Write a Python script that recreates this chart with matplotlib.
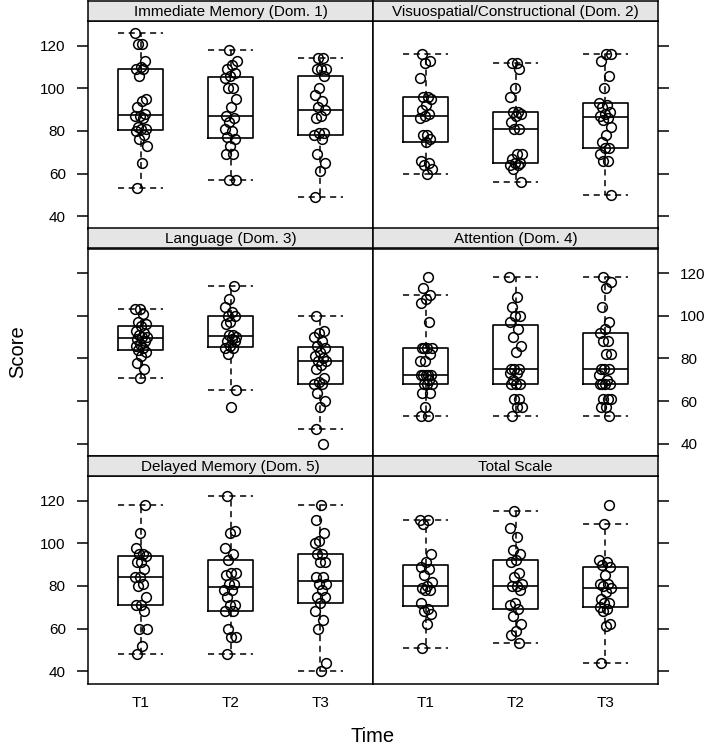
import numpy as np
import matplotlib
matplotlib.use("Agg")
import matplotlib.pyplot as plt

plt.rcParams["font.family"] = ["Liberation Sans", "DejaVu Sans"]

time_labels = ["T1", "T2", "T3"]
panel_titles = ["Immediate Memory (Dom. 1)", "Visuospatial/Constructional (Dom. 2)",
                "Language (Dom. 3)", "Attention (Dom. 4)",
                "Delayed Memory (Dom. 5)", "Total Scale"]

# scores, one list per domain and time point
imm_t1 = [126, 121, 121, 113, 110, 109, 109, 106, 95, 94, 91, 88, 87, 87, 86, 82, 81, 81, 80, 78, 76, 73, 65, 53]
imm_t2 = [118, 113, 111, 109, 107, 106, 105, 100, 100, 95, 91, 87, 86, 84, 81, 80, 77, 76, 73, 69, 69, 57, 57]
imm_t3 = [114, 114, 109, 109, 109, 106, 100, 97, 94, 91, 90, 87, 86, 79, 79, 78, 76, 69, 65, 61, 49]

vis_t1 = [116, 113, 112, 105, 96, 96, 95, 92, 90, 88, 87, 86, 78, 78, 76, 75, 66, 65, 64, 62, 60]
vis_t2 = [112, 112, 109, 100, 96, 89, 89, 88, 87, 84, 81, 81, 69, 69, 67, 65, 65, 64, 64, 62, 56]
vis_t3 = [116, 116, 113, 106, 100, 93, 92, 91, 89, 88, 87, 86, 85, 82, 78, 75, 72, 72, 69, 66, 66, 50]

lang_t1 = [103, 103, 101, 97, 96, 95, 93, 92, 91, 90, 90, 89, 88, 87, 86, 85, 84, 83, 81, 78, 75, 71]
lang_t2 = [114, 108, 104, 102, 100, 100, 97, 96, 91, 91, 90, 89, 88, 88, 86, 85, 85, 82, 65, 57]
lang_t3 = [100, 93, 92, 90, 88, 86, 85, 83, 81, 80, 79, 79, 77, 75, 71, 69, 68, 68, 64, 60, 57, 47, 40]

att_t1 = [118, 113, 110, 108, 106, 97, 85, 85, 85, 85, 82, 79, 79, 72, 72, 72, 72, 72, 70, 68, 68, 68, 64, 64, 57, 53, 53]
att_t2 = [118, 109, 104, 100, 100, 97, 94, 90, 86, 83, 75, 75, 75, 73, 73, 70, 68, 68, 68, 61, 61, 57, 57, 53]
att_t3 = [118, 116, 113, 104, 97, 94, 92, 88, 88, 82, 82, 75, 75, 75, 72, 70, 68, 68, 68, 68, 61, 61, 61, 57, 57, 53]

del_t1 = [118, 105, 98, 95, 95, 94, 91, 91, 88, 84, 84, 81, 80, 75, 71, 71, 68, 60, 60, 52, 48]
del_t2 = [122, 106, 105, 98, 95, 92, 86, 86, 85, 81, 81, 78, 78, 75, 71, 71, 68, 68, 60, 56, 56, 48]
del_t3 = [118, 111, 105, 101, 100, 95, 95, 91, 91, 84, 84, 81, 81, 78, 75, 75, 72, 68, 64, 60, 44, 40]

tot_t1 = [111, 111, 109, 95, 91, 89, 88, 85, 82, 80, 79, 78, 78, 72, 69, 68, 67, 62, 51]
tot_t2 = [115, 107, 103, 97, 95, 92, 91, 86, 84, 81, 80, 80, 78, 72, 71, 69, 66, 62, 59, 57, 53]
tot_t3 = [118, 109, 92, 91, 90, 89, 85, 81, 81, 80, 79, 77, 74, 72, 72, 70, 69, 68, 62, 61, 44]

panels = [
    [imm_t1, imm_t2, imm_t3], [vis_t1, vis_t2, vis_t3],
    [lang_t1, lang_t2, lang_t3], [att_t1, att_t2, att_t3],
    [del_t1, del_t2, del_t3], [tot_t1, tot_t2, tot_t3],
]


def fivenum(v):
    """Tukey hinges, same as R's fivenum."""
    v = np.sort(np.asarray(v, dtype=float))
    n = len(v)
    n4 = np.floor((n + 3) / 2) / 2
    d = np.array([1, n4, (n + 1) / 2, n + 1 - n4, n]) - 1
    return 0.5 * (v[np.floor(d).astype(int)] + v[np.ceil(d).astype(int)])


def box_stats(v):
    v = np.asarray(v, dtype=float)
    f = fivenum(v)
    iqr = f[3] - f[1]
    lo = v[v >= f[1] - 1.5 * iqr].min()
    hi = v[v <= f[3] + 1.5 * iqr].max()
    return dict(med=f[2], q1=f[1], q3=f[3], whislo=lo, whishi=hi, fliers=[])


W, H = 709, 747
fig = plt.figure(figsize=(W / 100, H / 100), dpi=100)

col_left = [88, 373]
col_w = 285
strip_h = 20
row_h = 227.5
dash = (0, (4, 3))

for k, (title, groups) in enumerate(zip(panel_titles, panels)):
    r, c = divmod(k, 2)
    top = 1 + r * row_h
    left = col_left[c] / W
    ax = fig.add_axes([left, 1 - (top + row_h) / H, col_w / W, (row_h - strip_h) / H])
    sax = fig.add_axes([left, 1 - (top + strip_h) / H, col_w / W, strip_h / H])
    sax.set_facecolor("#e5e5e5")
    sax.set_xticks([])
    sax.set_yticks([])
    sax.text(0.5, 0.45, title, ha="center", va="center", fontsize=11,
             transform=sax.transAxes)

    stats = [box_stats(g) for g in groups]
    ax.bxp(stats, positions=[1, 2, 3], widths=0.5, capwidths=[0.5] * 3,
           showfliers=False,
           boxprops=dict(color="black", lw=1.2),
           medianprops=dict(color="black", lw=1.2),
           whiskerprops=dict(color="black", lw=1.1, ls=dash),
           capprops=dict(color="black", lw=1.1, ls=dash))
    for i, g in enumerate(groups):
        n = len(g)
        jit = ((np.arange(n) * 0.618034 + 0.37 * i + 0.21 * k) % 1) * 2 - 1
        ax.plot(i + 1 + 0.07 * jit, g, "o", ms=7, mfc="none", mec="black",
                mew=1.1, zorder=3)

    ax.set_xlim(0.41, 3.59)
    ax.set_ylim(34.2, 131.6)
    ax.set_yticks([40, 60, 80, 100, 120])
    ax.set_xticks([1, 2, 3])
    for s in ax.spines.values():
        s.set_linewidth(1.1)
    for s in sax.spines.values():
        s.set_linewidth(1.1)

    if c == 0:
        ax.tick_params(axis="y", left=True, right=False, labelleft=(r != 1),
                       length=8, width=1.1, pad=8, labelsize=11)
    else:
        ax.tick_params(axis="y", left=False, right=True, labelleft=False,
                       labelright=(r == 1), length=8, width=1.1, pad=8, labelsize=11)
    if r == 2:
        ax.set_xticklabels(time_labels)
        ax.tick_params(axis="x", length=0, pad=9, labelsize=11)
    else:
        ax.tick_params(axis="x", length=0, labelbottom=False)

fig.text(18 / W, 1 - 352 / H, "Score", rotation=90, ha="center", va="center", fontsize=14.5)
fig.text(373 / W, 1 - 737 / H, "Time", ha="center", va="center", fontsize=14.5)

fig.savefig("out.png", dpi=100)
